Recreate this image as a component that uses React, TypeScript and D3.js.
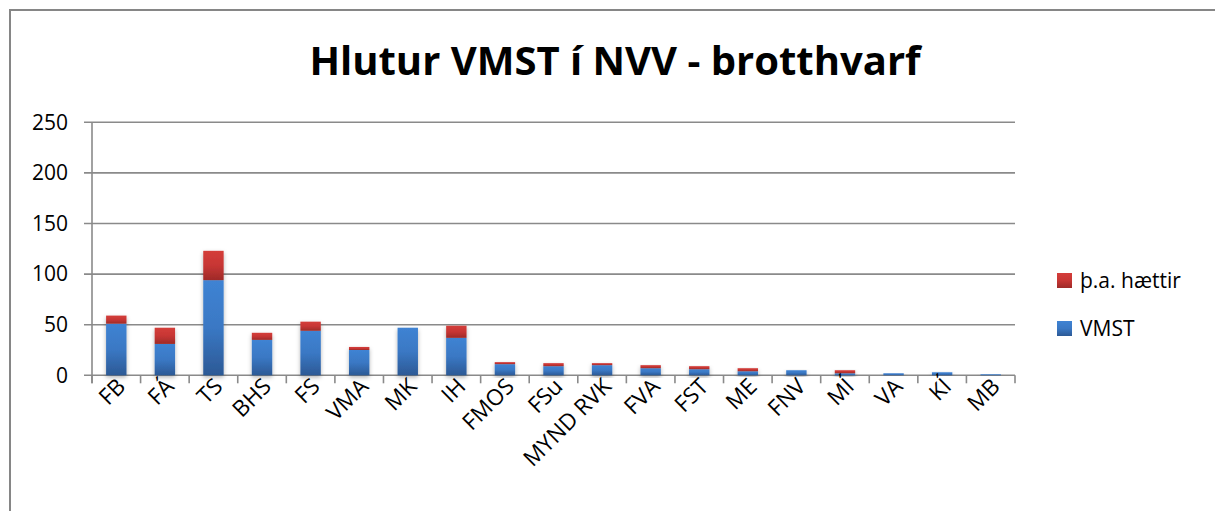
import React from "react";
import * as d3 from "d3";

const categories = ["FB", "FÁ", "TS", "BHS", "FS", "VMA", "MK", "IH", "FMOS", "FSu", "MYND RVK", "FVA", "FST", "ME", "FNV", "MÍ", "VA", "KÍ", "MB"];
const vmst = [51, 31, 94, 35, 44, 25, 47, 37, 11, 9, 10, 7, 6, 4, 5, 2, 2, 3, 1];
const haettir = [8, 16, 29, 7, 9, 3, 0, 12, 2, 3, 2, 3, 3, 3, 0, 3, 0, 0, 0];
const yTicks = [0, 50, 100, 150, 200, 250];
const seriesNames = ["VMST", "þ.a. hættir"];
const title = "Hlutur VMST í NVV - brotthvarf";

const W = 1215;
const H = 511;
const M = { left: 92, right: 1015, top: 122.3, bottom: 375.3 };
const FONT = "'Open Sans', Lato, sans-serif";

export default function App() {
  const x = d3
    .scaleBand<string>()
    .domain(categories)
    .range([M.left, M.right])
    .paddingInner(0.58)
    .paddingOuter(0.29);
  const y = d3.scaleLinear().domain([0, 250]).range([M.bottom, M.top]);
  const step = x.step();

  const rows = categories.map((c, i) => ({ cat: c, VMST: vmst[i], "þ.a. hættir": haettir[i] }));
  const stack = d3.stack<any>().keys(seriesNames)(rows);
  const grads = ["gBlue", "gRed"];
  const grid = "#8a8a8a";

  return (
    <div style={{ position: "fixed", left: 0, top: 0 }}>
      <svg width={W} height={H} style={{ display: "block", background: "#fff" }}>
        <defs>
          <linearGradient id="gBlue" x1="0" y1="0" x2="0" y2="1">
            <stop offset="0" stopColor="#3f83d3" />
            <stop offset="0.5" stopColor="#3a78c4" />
            <stop offset="1" stopColor="#2c5995" />
          </linearGradient>
          <linearGradient id="gRed" x1="0" y1="0" x2="0" y2="1">
            <stop offset="0" stopColor="#d43d3a" />
            <stop offset="0.5" stopColor="#c73634" />
            <stop offset="1" stopColor="#9e2a28" />
          </linearGradient>
          <filter id="shadow" x="-30%" y="-10%" width="160%" height="130%">
            <feDropShadow dx="0" dy="2" stdDeviation="2" floodColor="#000" floodOpacity="0.3" />
          </filter>
        </defs>
        <rect x={10} y={10} width={1220} height={520} fill="#fff" stroke="#868686" strokeWidth={2} />

        <text x={615} y={75} textAnchor="middle" fontFamily={FONT} fontWeight={700} fontSize={40} fill="#000">
          {title}
        </text>

        {/* gridlines */}
        {yTicks.map((t) => (
          <line key={"g" + t} x1={M.left - 8} x2={M.right} y1={y(t)} y2={y(t)} stroke={grid} strokeWidth={1.6} />
        ))}
        {/* y axis */}
        <line x1={M.left} x2={M.left} y1={M.top} y2={M.bottom + 8} stroke={grid} strokeWidth={1.6} />
        {/* x ticks */}
        {d3.range(categories.length + 1).map((k) => (
          <line
            key={"xt" + k}
            x1={M.left + k * step}
            x2={M.left + k * step}
            y1={M.bottom}
            y2={M.bottom + 8}
            stroke={grid}
            strokeWidth={1.6}
          />
        ))}
        {yTicks.map((t) => (
          <text
            key={"yl" + t}
            x={68}
            y={y(t)}
            dy="0.35em"
            textAnchor="end"
            fontFamily={FONT}
            fontSize={21}
            fill="#000"
          >
            {t}
          </text>
        ))}

        {/* bars */}
        {categories.map((c, i) => (
          <g key={"b" + c} filter="url(#shadow)">
            {stack.map((s, si) => {
              const d = s[i];
              const h = y(d[0]) - y(d[1]);
              if (h <= 0) return null;
              return (
                <rect
                  key={s.key}
                  x={x(c)}
                  y={y(d[1])}
                  width={x.bandwidth()}
                  height={h}
                  fill={`url(#${grads[si]})`}
                />
              );
            })}
          </g>
        ))}

        {/* x labels */}
        {categories.map((c) => {
          const cx = (x(c) as number) + x.bandwidth() / 2;
          return (
            <text
              key={"xl" + c}
              transform={`translate(${cx + 5},${M.bottom + 7}) rotate(-45)`}
              textAnchor="end"
              dy="0.35em"
              fontFamily={FONT}
              fontSize={22.5}
              fill="#000"
            >
              {c}
            </text>
          );
        })}

        {/* legend */}
        {[1, 0].map((si, li) => (
          <g key={"lg" + si} transform={`translate(1057,${273 + li * 48})`}>
            <rect width={15} height={15} fill={`url(#${grads[si]})`} />
            <text x={23} y={7.5} dy="0.35em" fontFamily={FONT} fontSize={21} fill="#000">
              {seriesNames[si]}
            </text>
          </g>
        ))}
      </svg>
    </div>
  );
}
